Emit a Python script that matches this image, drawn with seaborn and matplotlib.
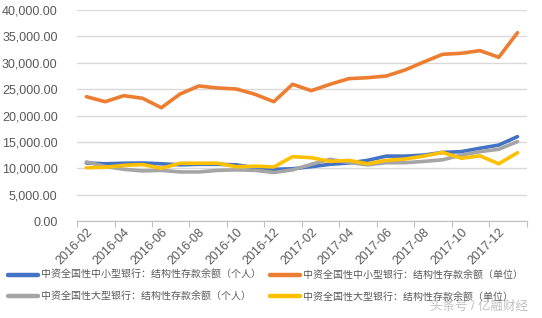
import matplotlib
matplotlib.use("Agg")
import matplotlib.pyplot as plt
import seaborn as sns
import pandas as pd
from matplotlib.ticker import FuncFormatter, FixedLocator

months = ["2016-02", "2016-03", "2016-04", "2016-05", "2016-06", "2016-07",
          "2016-08", "2016-09", "2016-10", "2016-11", "2016-12", "2017-01",
          "2017-02", "2017-03", "2017-04", "2017-05", "2017-06", "2017-07",
          "2017-08", "2017-09", "2017-10", "2017-11", "2017-12", "2018-01"]

small_personal = [11000, 10850, 10950, 11000, 10850, 10650, 10750, 10750, 10650, 10100,
                  9800, 9900, 10300, 10750, 11000, 11500, 12300, 12300, 12500, 13000,
                  13150, 13800, 14400, 16000]
small_corporate = [23570, 22620, 23760, 23260, 21480, 24080, 25600, 25220, 25030, 24020,
                   22620, 25920, 24710, 25920, 26990, 27170, 27490, 28630, 30150, 31600,
                   31800, 32300, 31040, 35700]
large_personal = [11200, 10350, 9800, 9500, 9600, 9300, 9300, 9600, 9700, 9600,
                  9200, 9700, 10750, 11700, 11100, 10650, 11050, 11050, 11300, 11600,
                  12500, 13150, 13600, 15050]
large_corporate = [10100, 10200, 10550, 10700, 10000, 10950, 10950, 10950, 10300, 10400,
                   10250, 12200, 12000, 11300, 11500, 10850, 11500, 11750, 12300, 13000,
                   11900, 12350, 10850, 12950]

series_names = ["中资全国性中小型银行：结构性存款余额（个人）",
                "中资全国性中小型银行：结构性存款余额（单位）",
                "中资全国性大型银行：结构性存款余额（个人）",
                "中资全国性大型银行：结构性存款余额（单位）"]
series_values = [small_personal, small_corporate, large_personal, large_corporate]
colors = ["#4472C4", "#ED7D31", "#A5A5A5", "#FFC000"]
yticks = [0, 5000, 10000, 15000, 20000, 25000, 30000, 35000, 40000]

rows = []
for name, vals in zip(series_names, series_values):
    for m, v in zip(months, vals):
        rows.append({"month": m, "value": v, "series": name})
df = pd.DataFrame(rows)

sns.set_theme(style="white")
plt.rcParams['font.family'] = ['Liberation Sans', 'Noto Sans CJK SC', 'DejaVu Sans']

fig = plt.figure(figsize=(5.42, 3.18), dpi=100)
ax = fig.add_axes([0.1421, 0.305, 0.830, 0.6635])

sns.lineplot(data=df, x="month", y="value", hue="series", hue_order=series_names,
             palette=dict(zip(series_names, colors)), linewidth=2.6, sort=False,
             ax=ax, legend=True)

ax.set_xlim(-0.5, len(months) - 0.5)
ax.set_ylim(0, 40000)
ax.set_yticks(yticks)
ax.yaxis.set_major_formatter(FuncFormatter(lambda v, p: f"{v:,.2f}"))
ax.grid(axis="y", color="#D9D9D9", linewidth=1.0)
ax.grid(axis="x", visible=False)
ax.set_axisbelow(True)

# labels at every second category, tick marks at category boundaries
ax.set_xticks(range(0, len(months), 2))
ax.set_xticklabels(months[::2])
ax.xaxis.set_minor_locator(FixedLocator([i - 0.5 for i in range(0, len(months) + 1, 2)]))
ax.tick_params(axis="x", which="major", length=0, pad=4, labelsize=9, labelcolor="#595959")
ax.tick_params(axis="x", which="minor", length=4, width=0.8, color="#BFBFBF", bottom=True)
ax.tick_params(axis="y", length=0, pad=14, labelsize=9, labelcolor="#595959")
for lab in ax.get_xticklabels():
    lab.set_rotation(45)
    lab.set_ha("right")
    lab.set_rotation_mode("anchor")

for s in ["top", "right", "left"]:
    ax.spines[s].set_visible(False)
ax.spines["bottom"].set_color("#BFBFBF")
ax.spines["bottom"].set_linewidth(0.8)
ax.set_xlabel("")
ax.set_ylabel("")

handles, labels = ax.get_legend_handles_labels()
ax.legend_.remove()
# legend fills column-wise; reorder so rows read: blue, orange / gray, yellow
order = [0, 2, 1, 3]
leg = fig.legend([handles[i] for i in order], [labels[i] for i in order],
                 loc="upper left", bbox_to_anchor=(0.0055, 0.166),
                 ncol=2, frameon=False, fontsize=7.2, handlelength=3.0,
                 handletextpad=0.3, columnspacing=0.9, labelspacing=1.15, borderpad=0)
for t in leg.get_texts():
    t.set_color("#595959")
for h in leg.get_lines():
    h.set_linewidth(3.2)

fig.text(0.975, 0.035, "头条号 / 亿融财经", ha="right", va="center", fontsize=9,
         color="#B0B0B0", alpha=0.8)

fig.savefig("out.png", dpi=100)
